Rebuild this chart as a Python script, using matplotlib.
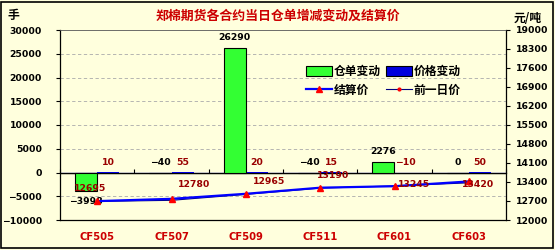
import matplotlib
matplotlib.use("Agg")
import matplotlib.pyplot as plt
from matplotlib.patches import Rectangle, Patch
from matplotlib.lines import Line2D
import numpy as np

plt.rcParams['font.family'] = ['Noto Sans CJK SC', 'DejaVu Sans']

categories = ["CF505", "CF507", "CF509", "CF511", "CF601", "CF603"]
receipt_change = [-3998, -40, 26290, -40, 2276, 0]
price_change = [10, 55, 20, 15, -10, 50]
settle_price = [12695, 12780, 12965, 13190, 13245, 13420]
prev_price = [12685, 12725, 12945, 13175, 13255, 13370]

title = "郑棉期货各合约当日仓单增减变动及结算价"
left_unit = "手"
right_unit = "元/吨"
left_ticks = list(range(-10000, 30001, 5000))
right_ticks = list(range(12000, 19001, 700))

BG = "#FFFFDD"
GREEN = "#33FF33"
BLUE = "#0000FF"
DARKRED = "#990000"
CATRED = "#CC0000"

fig = plt.figure(figsize=(5.55, 2.5), dpi=100, facecolor=BG)
ax = fig.add_axes([60/555, 30/250, 446/555, 190/250])
ax.set_facecolor(BG)
ax2 = ax.twinx()

x = np.arange(len(categories))
w = 0.3
num_font = dict(family='DejaVu Sans', fontweight='bold', fontsize=6.7)

ax.bar(x - w/2, receipt_change, width=w, color=GREEN, edgecolor='black', linewidth=0.8, zorder=3)
ax.bar(x + w/2, price_change, width=w, color=BLUE, edgecolor='none', linewidth=0, zorder=1.5)

ax.set_xlim(-0.5, len(categories) - 0.5)
ax.set_ylim(left_ticks[0], left_ticks[-1])
ax.set_yticks(left_ticks)
ax.set_yticklabels([f"{t}".replace("-", "\u2212") for t in left_ticks], **num_font)
for t in left_ticks[1:-1]:
    if t != 0:
        ax.axhline(t, color='#AAAAAA', linestyle=(0, (4, 3)), linewidth=0.6, zorder=1)
ax.axhline(0, color='black', linewidth=0.9, zorder=2.6)

ax.tick_params(axis='y', direction='out', length=3, pad=10, width=0.8)
ax.set_xticks(x)
ax.set_xticklabels(categories, family='DejaVu Sans', fontweight='bold', fontsize=7.2, color=CATRED)
ax.tick_params(axis='x', length=0, pad=9)

for s in ['left', 'right', 'bottom']:
    ax.spines[s].set_color('black')
    ax.spines[s].set_linewidth(0.9)
ax.spines['top'].set_color('#555555')
ax.spines['top'].set_linewidth(0.6)

# zero category axis with boundary ticks
sec = ax.secondary_xaxis(0.25)
sec.set_xticks(np.arange(len(categories) + 1) - 0.5)
sec.tick_params(axis='x', direction='in', length=3, width=0.8, labelbottom=False)
sec.spines['bottom'].set_linewidth(0.9)

# data labels for receipt change
for xi, v in zip(x, receipt_change):
    if v < -1000:
        ax.annotate(f"{v}".replace("-", "\u2212"), (xi - w/2, v), xytext=(0, -4), textcoords='offset points',
                    ha='center', va='top', color='black', zorder=6, **num_font)
    else:
        ax.annotate(f"{v}".replace("-", "\u2212"), (xi - w/2, max(v, 0)), xytext=(0, 4), textcoords='offset points',
                    ha='center', va='bottom', color='black', zorder=6, **num_font)
for xi, v in zip(x, price_change):
    ax.annotate(f"{v}".replace("-", "\u2212"), (xi + w/2, max(v, 0)), xytext=(0, 4), textcoords='offset points',
                ha='center', va='bottom', color=DARKRED, zorder=6, **num_font)

ax2.set_ylim(right_ticks[0], right_ticks[-1])
ax2.set_yticks(right_ticks)
ax2.set_yticklabels([str(t) for t in right_ticks], **num_font)
ax2.tick_params(axis='y', direction='out', length=3, pad=4, width=0.8)
for s in ax2.spines.values():
    s.set_visible(False)

ax2.plot(x, prev_price, color='#000080', linewidth=0.8, marker='o', markersize=2,
         markerfacecolor='red', markeredgecolor='red', zorder=4)
ax2.plot(x, settle_price, color=BLUE, linewidth=1.6, marker='^', markersize=4.5,
         markerfacecolor='red', markeredgecolor='red', zorder=5)

offsets = [(-5, 9), (16, 10), (17, 9), (9, 9), (14, 1.5), (6.5, -2.5)]
for xi, v, off in zip(x, settle_price, offsets):
    ax2.annotate(str(v), (xi, v), xytext=off, textcoords='offset points', ha='center', va='center',
                 color=DARKRED, zorder=6, **num_font)

handles = [Patch(facecolor=GREEN, edgecolor='black', linewidth=0.8),
           Line2D([], [], color=BLUE, linewidth=1.6, marker='^', markersize=4.5,
                  markerfacecolor='red', markeredgecolor='red'),
           Patch(facecolor='#0000DD', edgecolor='black', linewidth=0.8),
           Line2D([], [], color='#000080', linewidth=0.8, marker='o', markersize=2,
                  markerfacecolor='red', markeredgecolor='red')]
labels = ["仓单变动", "结算价", "价格变动", "前一日价"]
ax2.legend(handles, labels, ncol=2, frameon=False, loc='upper left',
           bbox_to_anchor=(0.54, 0.84), prop=dict(family='Noto Sans CJK SC', weight='bold', size=8.5),
           handlelength=2.2, handleheight=0.9, handletextpad=0.2, columnspacing=0.4, labelspacing=0.45,
           borderaxespad=0)

fig.text(0.5, 1 - 16/250, title, ha='center', va='center', color=CATRED, fontsize=9.3, fontweight='bold',
         family=['Noto Sans CJK SC', 'DejaVu Sans'])
fig.text(13/555, 1 - 16/250, left_unit, ha='center', va='center', color='black', fontsize=8.5, fontweight='bold')
fig.text(528/555, 1 - 19/250, right_unit, ha='center', va='center', color='black', fontsize=8.5, fontweight='bold',
         family=['Noto Sans CJK SC', 'DejaVu Sans'])

fig.patches.append(Rectangle((1/555, 2/250), 552/555, 246/250, transform=fig.transFigure,
                             fill=False, edgecolor='black', linewidth=1.2))

fig.savefig("out.png", dpi=100, facecolor=BG)
